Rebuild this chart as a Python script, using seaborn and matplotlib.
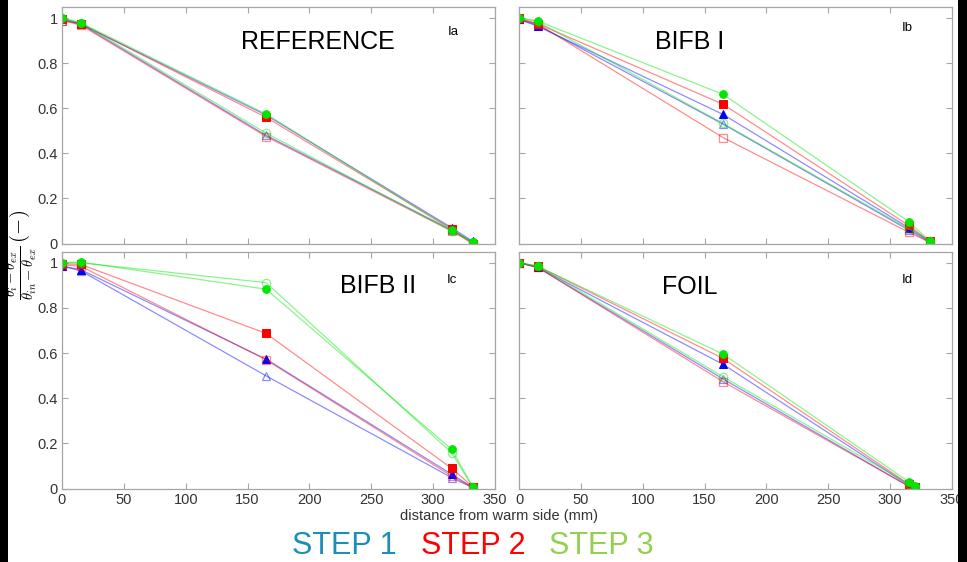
import matplotlib
matplotlib.use("Agg")
import matplotlib.pyplot as plt
from matplotlib.patches import Rectangle
import seaborn as sns
import pandas as pd

# ---------------- data ----------------
X_MAIN = [0, 15, 165, 315, 332]
X_FOIL = [0, 15, 165, 315, 320]

PANELS = ["REFERENCE", "BIFB I", "BIFB II", "FOIL"]
TAGS = ["Ia", "Ib", "Ic", "Id"]
STEPS = ["STEP 1", "STEP 2", "STEP 3"]

# Ia REFERENCE
ref_s1_filled = [1.0, 0.975, 0.57, 0.07, 0.01]
ref_s1_hollow = [0.99, 0.975, 0.48, 0.06, 0.005]
ref_s2_filled = [0.995, 0.975, 0.56, 0.065, 0.0]
ref_s2_hollow = [0.99, 0.97, 0.475, 0.055, 0.0]
ref_s3_filled = [1.0, 0.98, 0.575, 0.06, 0.005]
ref_s3_hollow = [1.0, 0.98, 0.49, 0.055, 0.005]

# Ib BIFB I
b1_s1_filled = [0.995, 0.965, 0.573, 0.07, 0.01]
b1_s1_hollow = [0.995, 0.97, 0.53, 0.06, 0.005]
b1_s2_filled = [1.0, 0.976, 0.618, 0.08, 0.01]
b1_s2_hollow = [0.995, 0.975, 0.47, 0.05, 0.005]
b1_s3_filled = [1.003, 0.988, 0.662, 0.097, 0.012]
b1_s3_hollow = [1.0, 0.985, 0.533, 0.065, 0.01]

# Ic BIFB II
b2_s1_filled = [0.985, 0.97, 0.573, 0.063, 0.005]
b2_s1_hollow = [0.985, 0.965, 0.499, 0.048, 0.003]
b2_s2_filled = [0.995, 0.993, 0.687, 0.089, 0.008]
b2_s2_hollow = [0.99, 0.985, 0.57, 0.055, 0.005]
b2_s3_filled = [1.001, 1.003, 0.883, 0.173, 0.008]
b2_s3_hollow = [1.0, 1.0, 0.912, 0.158, 0.005]

# Id FOIL
foil_s1_filled = [1.0, 0.98, 0.55, 0.015, 0.005]
foil_s1_hollow = [1.0, 0.98, 0.485, 0.01, 0.005]
foil_s2_filled = [1.0, 0.985, 0.576, 0.02, 0.005]
foil_s2_hollow = [1.0, 0.98, 0.473, 0.01, 0.005]
foil_s3_filled = [1.0, 0.985, 0.595, 0.03, 0.01]
foil_s3_hollow = [1.0, 0.985, 0.495, 0.02, 0.008]

X_TICKS = [0, 50, 100, 150, 200, 250, 300, 350]
Y_TICKS = [0, 0.2, 0.4, 0.6, 0.8, 1.0]
Y_TICK_LABELS = ["0", "0.2", "0.4", "0.6", "0.8", "1"]

panel_series = {
    "REFERENCE": (X_MAIN, [ref_s1_filled, ref_s1_hollow, ref_s2_filled, ref_s2_hollow, ref_s3_filled, ref_s3_hollow]),
    "BIFB I": (X_MAIN, [b1_s1_filled, b1_s1_hollow, b1_s2_filled, b1_s2_hollow, b1_s3_filled, b1_s3_hollow]),
    "BIFB II": (X_MAIN, [b2_s1_filled, b2_s1_hollow, b2_s2_filled, b2_s2_hollow, b2_s3_filled, b2_s3_hollow]),
    "FOIL": (X_FOIL, [foil_s1_filled, foil_s1_hollow, foil_s2_filled, foil_s2_hollow, foil_s3_filled, foil_s3_hollow]),
}

rows = []
for p in PANELS:
    xs, series = panel_series[p]
    for i, ys in enumerate(series):
        step = STEPS[i // 2]
        kind = "filled" if i % 2 == 0 else "hollow"
        for x, y in zip(xs, ys):
            rows.append({"panel": p, "step": step, "kind": kind, "x": x, "y": y})
df = pd.DataFrame(rows)

# ---------------- style ----------------
sns.set_theme(style="white")
plt.rcParams["font.family"] = ["Liberation Sans", "DejaVu Sans"]
plt.rcParams["mathtext.fontset"] = "cm"

W, H = 967, 562
fig = plt.figure(figsize=(W / 100, H / 100), dpi=100)

def ax_rect(x0, y0, x1, y1):
    return [x0 / W, 1 - y1 / H, (x1 - x0) / W, (y1 - y0) / H]

rects = {
    "REFERENCE": ax_rect(62, 7, 495, 243.5),
    "BIFB I": ax_rect(519, 7, 952, 243.5),
    "BIFB II": ax_rect(62, 251.5, 495, 488.5),
    "FOIL": ax_rect(519, 251.5, 952, 488.5),
}
title_pos = {
    "REFERENCE": (0.591, 0.852),
    "BIFB I": (0.395, 0.852),
    "BIFB II": (0.73, 0.855),
    "FOIL": (0.395, 0.85),
}
tag_pos = {
    "REFERENCE": (0.903, 0.895),
    "BIFB I": (0.896, 0.91),
    "BIFB II": (0.90, 0.88),
    "FOIL": (0.896, 0.88),
}

step_style = {
    "STEP 1": dict(rgb=(0.0, 0.0, 1.0), marker="^"),
    "STEP 2": dict(rgb=(1.0, 0.0, 0.0), marker="s"),
    "STEP 3": dict(rgb=(0.0, 0.9, 0.0), marker="o"),
}

spine_col = "#a6a6a6"
tick_txt = "#333333"

for idx, p in enumerate(PANELS):
    ax = fig.add_axes(rects[p])
    sub = df[df.panel == p]
    for step in STEPS:
        st = step_style[step]
        r, g, b = st["rgb"]
        for kind in ["filled", "hollow"]:
            d = sub[(sub.step == step) & (sub.kind == kind)]
            if kind == "filled":
                kw = dict(color=(r, g, b, 0.45), marker=st["marker"],
                          markerfacecolor=(r, g, b, 1.0),
                          markeredgecolor=(r, g, b, 1.0), markersize=5.5)
            else:
                kw = dict(color=(r, g, b, 0.45), marker=st["marker"],
                          markerfacecolor="none",
                          markeredgecolor=(r, g, b, 0.45), markersize=6,
                          markeredgewidth=0.9)
            sns.lineplot(data=d, x="x", y="y", ax=ax, linewidth=0.9,
                         estimator=None, sort=False, legend=False, **kw)
    ax.set_xlim(0, 350)
    ax.set_ylim(0, 1.05)
    ax.set_xticks(X_TICKS)
    ax.set_yticks(Y_TICKS)
    ax.set_xlabel("")
    ax.set_ylabel("")
    bottom = idx >= 2
    left = idx % 2 == 0
    if bottom:
        ax.set_xticklabels([str(v) for v in X_TICKS])
    else:
        ax.set_xticklabels([])
    if left:
        ax.set_yticklabels(Y_TICK_LABELS)
    else:
        ax.set_yticklabels([])
    ax.tick_params(direction="in", length=4, width=0.8, color=spine_col,
                   labelsize=10.5, labelcolor=tick_txt, top=True, right=True,
                   bottom=True, left=True, pad=3)
    for s in ax.spines.values():
        s.set_color(spine_col)
        s.set_linewidth(0.9)
        s.set_visible(True)
    ax.set_facecolor("white")
    ax.text(*title_pos[p], p, transform=ax.transAxes, ha="center", va="center",
            fontsize=18, color="black")
    ax.text(*tag_pos[p], TAGS[idx], transform=ax.transAxes, ha="center", va="center",
            fontsize=9.5, color="black")

# axis labels
fig.text(499 / W, 1 - 516 / H, "distance from warm side (mm)", ha="center", va="center",
         fontsize=10.5, color=tick_txt)
fig.text(21 / W, 1 - 255 / H,
         r"$\frac{\theta_i-\theta_{ex}}{\theta_{in}-\theta_{ex}}\,(-)$",
         rotation=90, ha="center", va="center", fontsize=15, color="black")

# step labels
step_colors = ["#1b8fb5", "#ff0000", "#92d050"]
step_x = [344, 473, 601]
for s, c, xpix in zip(STEPS, step_colors, step_x):
    fig.text(xpix / W, 1 - 546 / H, s, ha="center", va="center", fontsize=22, color=c)

# black side bars
fig.patches.append(Rectangle((0, 0), 8 / W, 1, transform=fig.transFigure,
                             facecolor="black", edgecolor="none"))
fig.patches.append(Rectangle((958 / W, 0), 9 / W, 1, transform=fig.transFigure,
                             facecolor="black", edgecolor="none"))

fig.savefig("out.png", dpi=100, facecolor="white")
